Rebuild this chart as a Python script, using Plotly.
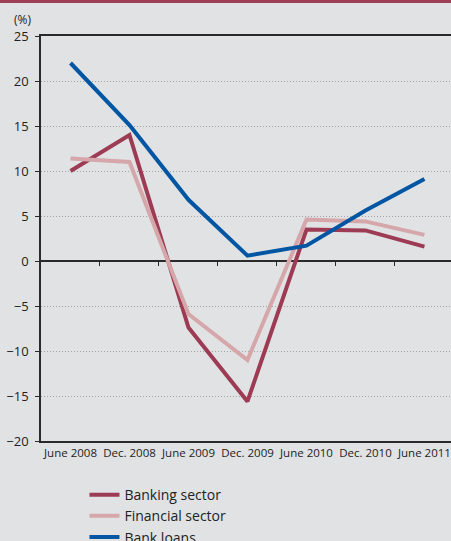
import plotly.graph_objects as go

categories = ["June 2008", "Dec. 2008", "June 2009", "Dec. 2009", "June 2010", "Dec. 2010", "June 2011"]
banking_sector = [10.0, 14.0, -7.4, -15.6, 3.5, 3.4, 1.6]
financial_sector = [11.4, 11.0, -5.9, -11.0, 4.6, 4.4, 2.9]
bank_loans = [22.0, 15.1, 6.8, 0.6, 1.7, 5.6, 9.1]
y_ticks = [25, 20, 15, 10, 5, 0, -5, -10, -15, -20]

idx = list(range(len(categories)))
boundaries = [i + 0.5 for i in idx[:-1]]

BG = "#e1e2e4"
AX = "#2a2a2a"
FONT = "Open Sans, Noto Sans, sans-serif"

fig = go.Figure()
series = [
    ("Banking sector", banking_sector, "#9d3b55"),
    ("Financial sector", financial_sector, "#d5a7aa"),
    ("Bank loans", bank_loans, "#0056a3"),
]
for i, (name, vals, col) in enumerate(series):
    fig.add_trace(go.Scatter(x=idx, y=vals, mode="lines", name=name,
                             line=dict(color=col, width=4), legendgroup=f"g{i}"))

# invisible trace to carry the zero-line tick axis
fig.add_trace(go.Scatter(x=idx, y=bank_loans, xaxis="x2", yaxis="y", mode="lines",
                         line=dict(width=0), opacity=0, showlegend=False, hoverinfo="skip"))

fig.update_layout(
    width=451, height=541,
    margin=dict(l=41, r=0, t=36, b=100, autoexpand=False),
    paper_bgcolor=BG, plot_bgcolor=BG,
    font=dict(family=FONT, color="#222", size=12),
    showlegend=True,
    legend=dict(x=0.106, y=-0.094, xanchor="left", yanchor="top", bgcolor="rgba(0,0,0,0)",
                font=dict(size=14, family=FONT, color="#222"), itemwidth=30,
                tracegroupgap=5, traceorder="normal"),
    xaxis=dict(range=[-0.5, 6.45], tickvals=idx, ticktext=categories, ticks="",
               showgrid=False, zeroline=False, showline=True, linecolor=AX, linewidth=1.5,
               mirror=True, tickfont=dict(size=11.5, family=FONT, color="#222")),
    xaxis2=dict(overlaying="x", matches="x", anchor="free", position=20 / 45, side="bottom",
                tickvals=boundaries, showticklabels=False, ticks="outside", ticklen=4,
                tickcolor=AX, tickwidth=1, showgrid=False, showline=False, zeroline=False),
    yaxis=dict(range=[-20, 25], tickvals=y_ticks, ticks="outside", ticklen=4, tickcolor=AX,
               showline=True, linecolor=AX, linewidth=1.5, showgrid=True, gridcolor="#a3a3a3",
               griddash="1px,2px", gridwidth=1, zeroline=True, zerolinecolor=AX, zerolinewidth=1.5,
               ticklabelstandoff=4, tickfont=dict(size=13, family=FONT, color="#222")),
    shapes=[dict(type="rect", xref="paper", yref="paper", x0=-0.2, x1=1.1, y0=1.0815, y1=1.2,
                 fillcolor="#9e3f58", line=dict(width=0))],
    annotations=[dict(text="(%)", xref="paper", yref="paper", x=-0.045, y=1.015, xanchor="center",
                      yanchor="bottom", showarrow=False, font=dict(size=12, family=FONT, color="#222"))],
)

fig.write_html("out.html", config={"displayModeBar": False},
               post_script="document.body.style.margin='0';document.body.style.overflow='hidden';")
